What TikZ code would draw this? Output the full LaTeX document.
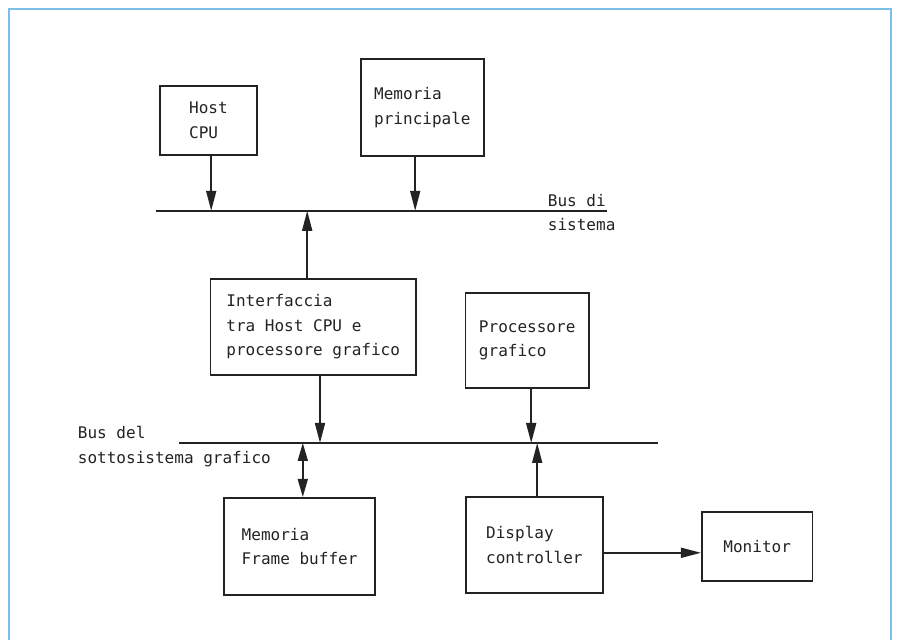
\documentclass[tikz,border=0pt]{standalone}
\usepackage{fontspec}
\setmonofont{DejaVu Sans Mono}
\usetikzlibrary{arrows.meta}
\definecolor{framecol}{RGB}{125,190,230}
\definecolor{inkcol}{RGB}{35,35,35}

\begin{document}
\begin{tikzpicture}[
    block/.style={rectangle,draw=inkcol,line width=1.2pt,align=left,inner sep=0pt,text=inkcol,
        font=\ttfamily\fontsize{11.4}{17.4}\selectfont},
    buslabel/.style={align=left,inner sep=0pt,anchor=west,text=inkcol,
        font=\ttfamily\fontsize{11.4}{17.4}\selectfont},
    busline/.style={draw=inkcol,line width=1.2pt},
    arr/.style={draw=inkcol,line width=1.2pt,-{Triangle[length=0.5cm,width=0.25cm]}},
    darr/.style={draw=inkcol,line width=1.2pt,
        {Triangle[length=0.45cm,width=0.25cm]}-{Triangle[length=0.45cm,width=0.25cm]}},
]
    \useasboundingbox (0,0) rectangle (22.475,16);

    %%%
    % page frame
    \draw[framecol,line width=1.5pt] (0.225,0) -- (0.225,15.775) -- (22.275,15.775) -- (22.275,0);

    %%%
    % the two buses
    \coordinate (sysL) at (3.9, 10.73);
    \coordinate (sysR) at (15.17, 10.73);
    \coordinate (grL) at (4.48, 4.925);
    \coordinate (grR) at (16.45, 4.925);
    \draw[busline] (sysL) -- (sysR);
    \draw[busline] (grL) -- (grR);
    \node[buslabel] (sysname) at (13.69, 10.69) {Bus di\\sistema};
    \node[buslabel] (grname) at (1.94, 4.83) {Bus del\\sottosistema grafico};

    %%%
    % blocks
    \node[block,minimum width=2.43cm,minimum height=1.73cm] (host) at (5.21, 12.99) {Host\\CPU};
    \node[block,minimum width=3.08cm,minimum height=2.43cm] (memp) at (10.56, 13.31) {Memoria\\principale};
    \node[block,minimum width=5.13cm,minimum height=2.4cm] (iface) at (7.83, 7.83) {Interfaccia\\tra Host CPU e\\processore grafico};
    \node[block,minimum width=3.08cm,minimum height=2.38cm] (gproc) at (13.18, 7.49) {Processore\\grafico};
    \node[block,minimum width=3.43cm,minimum height=2.4cm] (dispc) at (13.36, 2.38) {Display\\controller};
    \node[block,minimum width=2.77cm,minimum height=1.73cm] (monitor) at (18.93, 2.34) {Monitor};
    \node[block,minimum width=3.78cm,minimum height=2.43cm] (fbuf) at (7.49, 2.34) {Memoria\\Frame buffer};

    %%%
    % connections
    \draw[arr] ([xshift=0.07cm]host.south) -- ([xshift=0.07cm]host.south |- sysL);
    \draw[arr] ([xshift=-0.18cm]memp.south) -- ([xshift=-0.18cm]memp.south |- sysL);
    \draw[arr] ([xshift=-0.15cm]iface.north) -- ([xshift=-0.15cm]iface.north |- sysL);
    \draw[arr] ([xshift=0.17cm]iface.south) -- ([xshift=0.17cm]iface.south |- grL);
    \draw[arr] ([xshift=0.1cm]gproc.south) -- ([xshift=0.1cm]gproc.south |- grL);
    \draw[arr] ([xshift=0.07cm]dispc.north) -- ([xshift=0.07cm]dispc.north |- grL);
    \draw[darr] ([xshift=0.08cm]fbuf.north |- grL) -- ([xshift=0.08cm]fbuf.north);
    \draw[arr] ([yshift=-0.2cm]dispc.east) -- ([yshift=-0.2cm]dispc.east -| monitor.west);

\end{tikzpicture}
\end{document}
